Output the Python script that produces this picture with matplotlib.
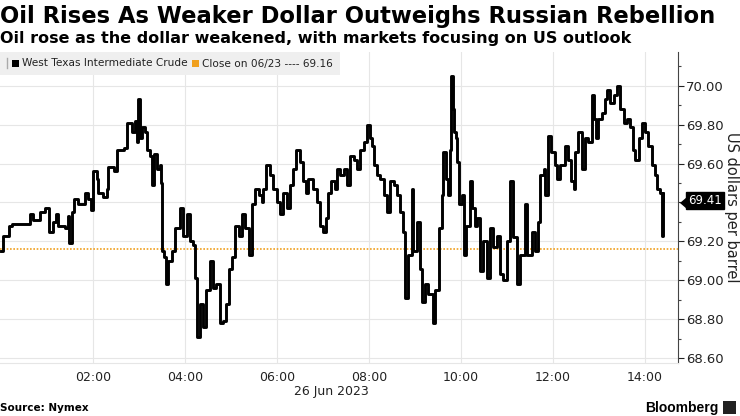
import numpy as np
import matplotlib
matplotlib.use("Agg")
import matplotlib.pyplot as plt
from matplotlib.ticker import MultipleLocator, FixedLocator, FuncFormatter
from matplotlib.patches import Rectangle, Polygon

# WTI crude, 26 Jun 2023 -- minutes after midnight and price (USD/bbl)
minutes = [0, 3, 10, 14, 23, 29, 38, 42, 51, 57, 62, 63, 68, 72, 75, 83, 88, 89, 92, 95,
           101, 110, 114, 117, 120, 125, 127, 133, 138, 140, 147, 151, 160, 164, 171, 175, 177, 179, 181, 184,
           188, 190, 194, 197, 200, 203, 207, 209, 210, 212, 215, 218, 223, 227, 233, 237, 242, 247, 251, 253,
           256, 260, 263, 268, 273, 277, 281, 286, 290, 294, 297, 301, 305, 310, 314, 318, 323, 324, 327, 331,
           336, 340, 342, 346, 351, 355, 360, 364, 368, 373, 377, 381, 385, 390, 394, 398, 401, 407, 412, 416,
           420, 424, 427, 431, 436, 438, 442, 447, 451, 455, 460, 464, 468, 473, 477, 481, 484, 486, 490, 494,
           499, 503, 507, 512, 516, 520, 524, 527, 531, 536, 538, 542, 546, 549, 553, 557, 563, 566, 571, 575,
           577, 581, 583, 586, 587, 589, 591, 594, 595, 597, 601, 604, 607, 612, 614, 618, 621, 625, 629, 634,
           638, 642, 647, 651, 655, 660, 664, 668, 673, 677, 684, 686, 692, 697, 701, 703, 708, 710, 714, 718,
           723, 725, 729, 736, 740, 744, 747, 749, 753, 758, 762, 766, 771, 773, 776, 779, 784, 788, 790, 794,
           799, 803, 808, 812, 816, 821, 824, 827, 832, 836, 840, 844, 849, 853, 855, 859, 862, 863, 864]
price = [69.15, 69.23, 69.28, 69.29, 69.29, 69.29, 69.34, 69.31, 69.35, 69.37, 69.34, 69.25, 69.30, 69.34, 69.28, 69.27, 69.33, 69.19, 69.35, 69.42,
         69.39, 69.45, 69.42, 69.36, 69.56, 69.52, 69.45, 69.43, 69.47, 69.58, 69.56, 69.67, 69.68, 69.81, 69.76, 69.82, 69.71, 69.93, 69.73, 69.79,
         69.76, 69.67, 69.64, 69.49, 69.65, 69.57, 69.59, 69.50, 69.15, 69.12, 68.98, 69.10, 69.15, 69.27, 69.37, 69.23, 69.34, 69.20, 69.18, 69.01,
         68.71, 68.88, 68.76, 68.95, 69.10, 68.96, 68.98, 68.78, 68.79, 68.88, 69.06, 69.12, 69.28, 69.23, 69.34, 69.27, 69.25, 69.13, 69.39, 69.47,
         69.44, 69.40, 69.47, 69.59, 69.54, 69.47, 69.40, 69.34, 69.45, 69.37, 69.49, 69.57, 69.67, 69.61, 69.51, 69.45, 69.52, 69.47, 69.40, 69.28,
         69.25, 69.32, 69.45, 69.51, 69.47, 69.57, 69.54, 69.57, 69.49, 69.64, 69.62, 69.57, 69.67, 69.71, 69.80, 69.73, 69.69, 69.59, 69.54, 69.52,
         69.44, 69.35, 69.51, 69.49, 69.44, 69.35, 69.25, 68.91, 69.13, 69.47, 69.15, 69.30, 69.06, 68.89, 68.98, 68.93, 68.78, 68.95, 69.27, 69.44,
         69.66, 69.52, 69.44, 69.67, 70.05, 69.88, 69.76, 69.73, 69.61, 69.39, 69.44, 69.13, 69.28, 69.51, 69.37, 69.28, 69.32, 69.05, 69.20, 69.01,
         69.27, 69.17, 69.23, 69.03, 69.00, 69.20, 69.51, 69.22, 68.98, 69.13, 69.39, 69.13, 69.25, 69.15, 69.30, 69.54, 69.57, 69.44, 69.74, 69.66,
         69.59, 69.52, 69.59, 69.69, 69.62, 69.51, 69.47, 69.66, 69.76, 69.57, 69.73, 69.71, 69.95, 69.83, 69.73, 69.83, 69.86, 69.93, 69.98, 69.91,
         69.95, 70.00, 69.88, 69.81, 69.83, 69.79, 69.67, 69.62, 69.73, 69.81, 69.76, 69.69, 69.59, 69.54, 69.47, 69.45, 69.23, 69.45, 69.41]
prev_close = 69.16
last_price = 69.41
tick_minutes = [120, 240, 360, 480, 600, 720, 840]
tick_labels = ["02:00", "04:00", "06:00", "08:00", "10:00", "12:00", "14:00"]

black = "#000000"
orange = "#f0a01e"
grid_c = "#e6e6e6"
W, H = 740, 416

fig = plt.figure(figsize=(7.4, 4.16), dpi=100)
ax = fig.add_axes([0.0, 0.1274, 0.9162, 0.7476])

ax.step(minutes, price, where="post", color=black, lw=2.1, zorder=3)
ax.axhline(prev_close, color=orange, lw=1.2, ls=(0, (1, 1)), zorder=2)

ax.set_xlim(-1.3, 883)
ax.set_ylim(68.575, 70.173)

ax.xaxis.set_major_locator(FixedLocator(tick_minutes))
ax.set_xticklabels(tick_labels)
ax.yaxis.set_major_locator(MultipleLocator(0.2))
ax.yaxis.set_minor_locator(MultipleLocator(0.1))
ax.yaxis.set_major_formatter(FuncFormatter(lambda v, p: f"{v:.2f}"))
ax.yaxis.tick_right()
ax.grid(True, which="major", color=grid_c, lw=0.8, zorder=0)

for s in ["left", "top"]:
    ax.spines[s].set_visible(False)
ax.spines["bottom"].set_color(grid_c)
ax.spines["right"].set_color("#444444")
ax.tick_params(axis="x", length=0, labelsize=9, colors="#222222", pad=6)
ax.tick_params(axis="y", which="major", length=4, width=0.8, labelsize=9.5,
               colors="#222222", pad=2)
ax.tick_params(axis="y", which="minor", length=2.5, width=0.8, colors="#444444")

ax.yaxis.set_label_position("right")
ax.set_ylabel("US dollars per barrel", rotation=-90, fontsize=10.5,
              color="#222222", labelpad=10.5)

# last price tag
ax.annotate(f"{last_price:.2f}", xy=(1.0, last_price),
            xycoords=("axes fraction", "data"), xytext=(7, 0),
            textcoords="offset points", va="center", ha="left",
            fontsize=8.5, color="white",
            bbox=dict(boxstyle="square,pad=0.18", fc="black", ec="black"),
            annotation_clip=False, zorder=5)
yt = 1 - 203 / H
fig.patches.append(Polygon([(680 / W, yt), (687 / W, yt + 6 / H), (687 / W, yt - 6 / H)],
                           closed=True, transform=fig.transFigure, fc="black", ec="none"))

# legend band
fig.patches.append(Rectangle((0.0, 1 - 75 / H), 340 / W, 23 / H,
                             transform=fig.transFigure, fc="#efefef", ec="none", zorder=4))
fig.lines.append(plt.Line2D([7 / W, 7 / W], [1 - 58 / H, 1 - 68 / H],
                            transform=fig.transFigure, color="#aaaaaa", lw=1, zorder=5))
fig.patches.append(Rectangle((12 / W, 1 - 67 / H), 7 / W, 7 / H,
                             transform=fig.transFigure, fc=black, ec="none", zorder=5))
fig.text(22 / W, 1 - 63.5 / H, "West Texas Intermediate Crude", fontsize=7.6,
         color="#222222", va="center", zorder=6)
fig.patches.append(Rectangle((192 / W, 1 - 67 / H), 7 / W, 7 / H,
                             transform=fig.transFigure, fc=orange, ec="none", zorder=5))
fig.text(202 / W, 1 - 63.5 / H, f"Close on 06/23 ---- {prev_close:.2f}", fontsize=7.6,
         color="#222222", va="center", zorder=6)

# titles
fig.text(0.0, 1 - 17 / H, "Oil Rises As Weaker Dollar Outweighs Russian Rebellion",
         fontsize=16.3, fontweight="bold", va="center", ha="left")
fig.text(0.0, 1 - 38 / H, "Oil rose as the dollar weakened, with markets focusing on US outlook",
         fontsize=11.5, fontweight="bold", va="center", ha="left")

fig.text(331 / W, 1 - 391 / H, "26 Jun 2023", fontsize=9, color="#222222",
         ha="center", va="center")
fig.text(0.0, 1 - 408 / H, "Source: Nymex", fontsize=7.5, fontweight="bold",
         va="center", ha="left")
fig.text(718 / W, 1 - 408 / H, "Bloomberg", fontsize=10, fontweight="bold",
         family="Liberation Sans", va="center", ha="right")
fig.patches.append(Rectangle((723 / W, 1 - 414 / H), 13 / W, 13 / H,
                             transform=fig.transFigure, fc="#222222", ec="none"))

fig.savefig("out.png", dpi=100)
